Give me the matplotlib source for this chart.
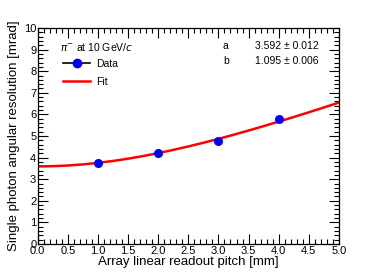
import matplotlib
matplotlib.use("Agg")
import matplotlib.pyplot as plt
from matplotlib.lines import Line2D
from matplotlib.ticker import MultipleLocator, FormatStrFormatter

pitch = [1.0, 2.0, 3.0, 4.0]
resolution = [3.77, 4.20, 4.78, 5.77]
resolution_err = [0.02, 0.02, 0.02, 0.02]

fit_x = [0.0, 0.25, 0.5, 0.75, 1.0, 1.25, 1.5, 1.75, 2.0, 2.25, 2.5,
         2.75, 3.0, 3.25, 3.5, 3.75, 4.0, 4.25, 4.5, 4.75, 5.0]
fit_y = [3.592, 3.602, 3.634, 3.685, 3.755, 3.844, 3.950, 4.071, 4.207, 4.356, 4.516,
         4.687, 4.868, 5.056, 5.253, 5.456, 5.665, 5.879, 6.098, 6.321, 6.548]

plt.rcParams["font.family"] = ["Liberation Sans", "DejaVu Sans"]

fig = plt.figure(figsize=(3.77, 2.72), dpi=100)
ax = fig.add_axes([0.100, 0.103, 0.799, 0.794])

ax.plot(fit_x, fit_y, color="red", lw=1.8, zorder=2)
ax.errorbar(pitch, resolution, yerr=resolution_err, fmt="o", color="blue",
            ecolor="black", ms=5.5, zorder=3)

ax.set_xlim(0, 5)
ax.set_ylim(0, 10)
ax.xaxis.set_major_locator(MultipleLocator(0.5))
ax.xaxis.set_minor_locator(MultipleLocator(0.1))
ax.yaxis.set_major_locator(MultipleLocator(1))
ax.yaxis.set_minor_locator(MultipleLocator(0.2))
ax.tick_params(which="both", direction="in", top=True, right=True, labelsize=8, width=0.8)
ax.tick_params(which="major", length=7)
ax.tick_params(which="minor", length=3.5)
ax.tick_params(axis="x", pad=1.5)
ax.tick_params(axis="y", pad=1)
ax.xaxis.set_major_formatter(FormatStrFormatter("%.1f"))
for s in ax.spines.values():
    s.set_linewidth(0.9)

ax.set_xlabel("Array linear readout pitch [mm]", fontsize=9.5, labelpad=0)
ax.set_ylabel("Single photon angular resolution [mrad]", fontsize=9.5, labelpad=3)

data_handle = Line2D([], [], color="black", lw=1.2, marker="o",
                     markerfacecolor="blue", markeredgecolor="blue", ms=6)
fit_handle = Line2D([], [], color="red", lw=1.8)
ax.legend([data_handle, fit_handle], ["Data", "Fit"], loc="upper left",
          bbox_to_anchor=(0.06, 0.89), frameon=False, fontsize=7.5,
          handlelength=2.6, labelspacing=0.75, borderpad=0.2, handletextpad=0.6)

ax.text(0.075, 0.94, r"$\pi^{-}$ at 10 GeV/$c$", transform=ax.transAxes,
        fontsize=7.5, va="top")
ax.text(0.615, 0.94, "a", transform=ax.transAxes, fontsize=7.5, va="top")
ax.text(0.72, 0.94, "3.592 ± 0.012", transform=ax.transAxes, fontsize=7.5, va="top")
ax.text(0.615, 0.87, "b", transform=ax.transAxes, fontsize=7.5, va="top")
ax.text(0.72, 0.87, "1.095 ± 0.006", transform=ax.transAxes, fontsize=7.5, va="top")

fig.savefig("out.png", dpi=100)
